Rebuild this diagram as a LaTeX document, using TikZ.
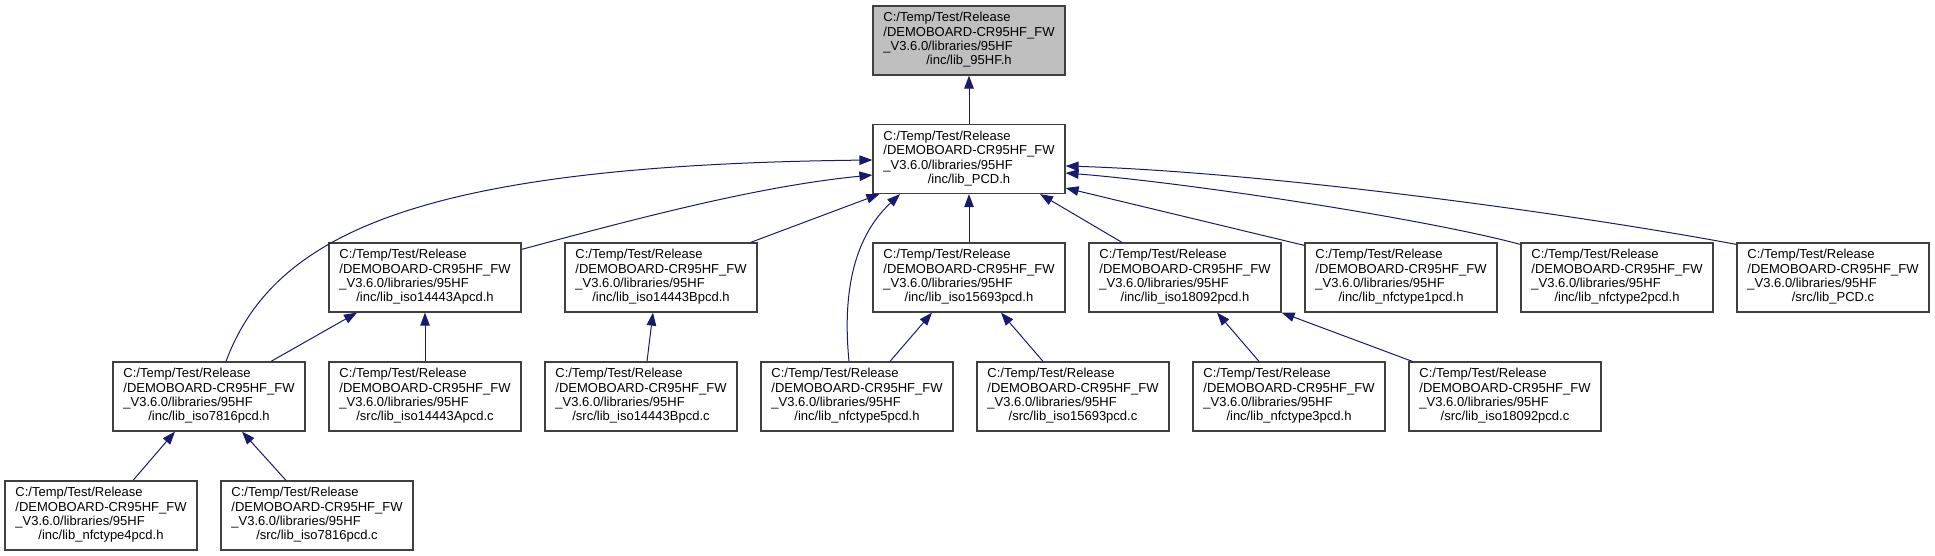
\documentclass[tikz,border=0pt]{standalone}
\usepackage{fontspec}
\setmainfont{Liberation Sans}
\usetikzlibrary{arrows.meta,calc}
\definecolor{edgeblue}{HTML}{191970}
\definecolor{boxline}{HTML}{404040}
\definecolor{topgray}{HTML}{BFBFBF}
\newcommand{\incpath}[1]{\begin{tabular}{@{}l@{}}C:/Temp/Test/Release\\/DEMOBOARD-CR95HF\_FW\\\_V3.6.0/libraries/95HF\\\multicolumn{1}{@{}c@{}}{#1}\end{tabular}}
\begin{document}
\begin{tikzpicture}[x=1pt,y=-1pt,
  file/.style={draw=boxline,line width=1.2pt,fill=white,minimum width=192pt,
    minimum height=69pt,inner sep=0pt,font=\fontsize{13}{14.3}\selectfont},
  dep/.style={draw=edgeblue,line width=1pt,-{Triangle[length=13pt,width=9.5pt]}}]
  \useasboundingbox (0,0) rectangle (1935,556);

  % Top and middle
  \node[file,fill=topgray] (hf) at (969,40.5) {\incpath{/inc/lib\_95HF.h}};
  \node[file] (pcd) at (969,159) {\incpath{/inc/lib\_PCD.h}};

  % Third row
  \node[file] (isoA) at (425,277.5) {\incpath{/inc/lib\_iso14443Apcd.h}};
  \node[file] (isoB) at (661,277.5) {\incpath{/inc/lib\_iso14443Bpcd.h}};
  \node[file] (iso15) at (969,277.5) {\incpath{/inc/lib\_iso15693pcd.h}};
  \node[file] (iso18) at (1185,277.5) {\incpath{/inc/lib\_iso18092pcd.h}};
  \node[file] (nfc1) at (1401,277.5) {\incpath{/inc/lib\_nfctype1pcd.h}};
  \node[file] (nfc2) at (1617,277.5) {\incpath{/inc/lib\_nfctype2pcd.h}};
  \node[file] (pcdc) at (1833,277.5) {\incpath{/src/lib\_PCD.c}};

  % Fourth row
  \node[file] (iso78) at (209,396.5) {\incpath{/inc/lib\_iso7816pcd.h}};
  \node[file] (isoAc) at (425,396.5) {\incpath{/src/lib\_iso14443Apcd.c}};
  \node[file] (isoBc) at (641,396.5) {\incpath{/src/lib\_iso14443Bpcd.c}};
  \node[file] (nfc5) at (857,396.5) {\incpath{/inc/lib\_nfctype5pcd.h}};
  \node[file] (iso15c) at (1073,396.5) {\incpath{/src/lib\_iso15693pcd.c}};
  \node[file] (nfc3) at (1289,396.5) {\incpath{/inc/lib\_nfctype3pcd.h}};
  \node[file] (iso18c) at (1505,396.5) {\incpath{/src/lib\_iso18092pcd.c}};

  % Bottom row
  \node[file] (nfc4) at (101,515.5) {\incpath{/inc/lib\_nfctype4pcd.h}};
  \node[file] (iso78c) at (317,515.5) {\incpath{/src/lib\_iso7816pcd.c}};

  % Includes of lib_PCD.h
  \draw[dep] (pcd.north) -- (hf.south);
  \draw[dep] ($(iso78.north)+(17,0)$) .. controls +(49,-132) and +(-443,5) .. ($(pcd.west)+(0,1)$);
  \draw[dep] ($(isoA.north east)+(0,7)$) .. controls +(119,-32) and +(-113,11) .. ($(pcd.west)+(0,16)$);
  \draw[dep] ($(isoB.north east)+(-7,0)$) -- ($(pcd.south west)+(7,0)$);
  \draw[dep] ($(nfc5.north)+(-8,0)$) .. controls +(-7,-72) and +(-45,42) .. ($(pcd.south)+(-69,0)$);
  \draw[dep] (iso15.north) -- (pcd.south);
  \draw[dep] ($(iso18.north)+(-63,0)$) -- ($(pcd.south)+(71,0)$);
  \draw[dep] ($(nfc1.north west)+(0,3)$) -- ($(pcd.east)+(0,29)$);
  \draw[dep] ($(nfc2.north west)+(0,2)$) .. controls +(-101,-27) and +(115,9) .. ($(pcd.east)+(0,14)$);
  \draw[dep] ($(pcdc.north west)+(0,2)$) .. controls +(-177,-33) and +(195,6) .. ($(pcd.east)+(0,7)$);

  % Lower includes
  \draw[dep] ($(iso78.north)+(62,0)$) -- ($(isoA.south)+(-68,0)$);
  \draw[dep] (isoAc.north) -- (isoA.south);
  \draw[dep] ($(isoBc.north)+(6,0)$) -- ($(isoB.south)+(-8,0)$);
  \draw[dep] ($(nfc5.north)+(33,0)$) -- ($(iso15.south)+(-37,0)$);
  \draw[dep] ($(iso15c.north)+(-30,0)$) -- ($(iso15.south)+(32,0)$);
  \draw[dep] ($(nfc3.north)+(-30,0)$) -- ($(iso18.south)+(32,0)$);
  \draw[dep] ($(iso18c.north west)+(4,0)$) -- (iso18.south east);
  \draw[dep] ($(nfc4.north)+(32,0)$) -- ($(iso78.south)+(-34,0)$);
  \draw[dep] ($(iso78c.north)+(-31,0)$) -- ($(iso78.south)+(33,0)$);
\end{tikzpicture}
\end{document}
